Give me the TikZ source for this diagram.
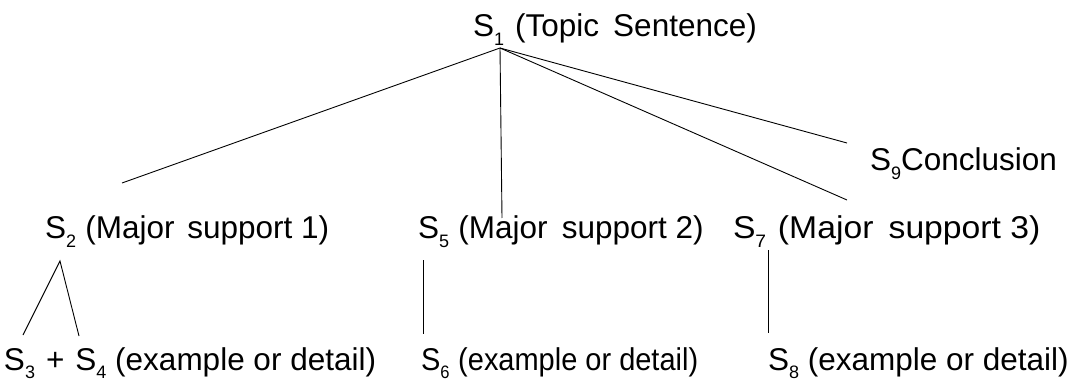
\documentclass[tikz,border=0pt]{standalone}
\usepackage{fontspec}
\setmainfont{Liberation Sans}
\newcommand{\sub}[1]{\raisebox{-8.5pt}{\fontsize{18}{18}\selectfont #1}}
\begin{document}
\begin{tikzpicture}[x=1pt,y=-1pt,
  lbl/.style={anchor=base west,inner sep=0pt,outer sep=0pt,font=\fontsize{31.5}{33}\selectfont},
  link/.style={draw=black,line width=0.9pt}]
\useasboundingbox (0,0) rectangle (1076,382);
% nodes
\node[lbl] (s1) at (473,37) {S\sub{1}\hspace{0.35em}(Topic\hspace{0.45em}Sentence)};
\node[lbl] (s9) at (870,171) {S\sub{9}Conclusion};
\node[lbl] (s2) at (45,239) {S\sub{2}\hspace{0.3em}(Major\hspace{0.4em}support 1)};
\node[lbl] (s5) at (418,239) {S\sub{5}\hspace{0.3em}(Major\hspace{0.45em}support 2)};
\node[lbl] (s7) at (733,239) {\scalebox{1.07}[1]{S\sub{7}\hspace{0.35em}(Major\hspace{0.45em}support 3)}};
\node[lbl] (s34) at (4,370) {S\sub{3}\hspace{0.35em}+\hspace{0.35em}S\sub{4} (example or detail)};
\node[lbl] (s6) at (421,370) {\scalebox{0.92}[1]{S\sub{6}\hspace{0.3em}(example or detail)}};
\node[lbl] (s8) at (768,370) {S\sub{8} (example or detail)};
% connector points
\coordinate (apex) at (500,48);
\coordinate (e2) at (122,183);
\coordinate (e5) at (502,218);
\coordinate (e7) at (847,200);
\coordinate (e9) at (847,143);
\coordinate (a2) at (60,261);
\coordinate (e3) at (23,335);
\coordinate (e4) at (79,336);
\coordinate (t5) at (423,260);
\coordinate (b6) at (423,334);
\coordinate (t7) at (768,250);
\coordinate (b8) at (768,333);
% connectors
\draw[link] (apex) -- (e2);
\draw[link] (apex) -- (e5);
\draw[link] (apex) -- (e7);
\draw[link] (apex) -- (e9);
\draw[link] (e3) -- (a2) -- (e4);
\draw[link] (t5) -- (b6);
\draw[link] (t7) -- (b8);
\end{tikzpicture}
\end{document}
